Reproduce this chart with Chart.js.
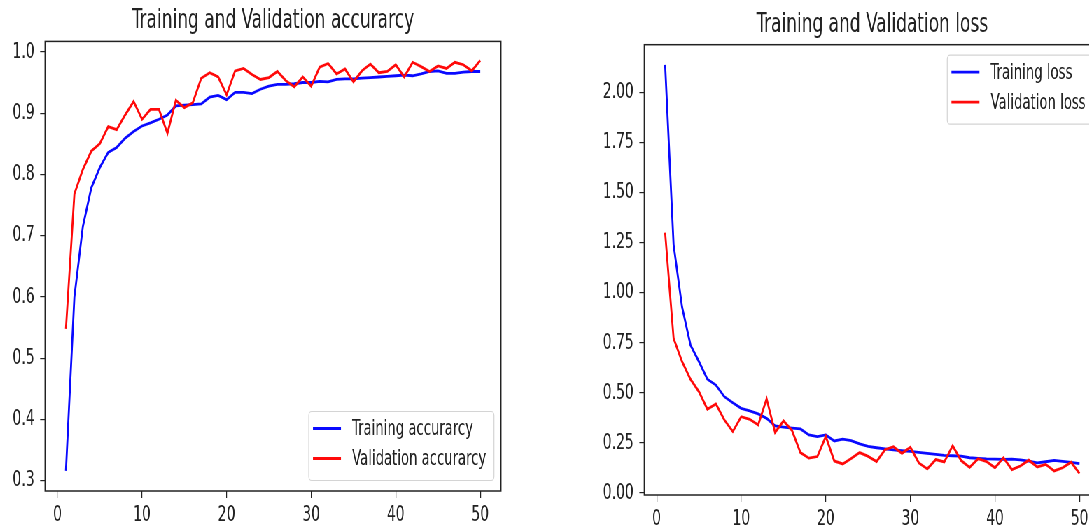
<!DOCTYPE html>
<html>
<head>
<meta charset="utf-8">
<script src="https://cdn.jsdelivr.net/npm/chart.js@4.4.1/dist/chart.umd.min.js"></script>
<style>
  html, body { margin: 0; padding: 0; background: #fff; overflow: hidden; }
  /* the reference is squeezed horizontally, so draw wide and scale down */
  #lienzo { position: relative; width: 1620px; height: 531px; transform: scaleX(0.7); transform-origin: 0 0; }
  #grafico1 { position: absolute; left: 0; top: 0; }
  #grafico2 { position: absolute; left: 820px; top: 0; }
</style>
</head>
<body>
<div id="lienzo">
  <canvas id="grafico1" width="760" height="531"></canvas>
  <canvas id="grafico2" width="800" height="531"></canvas>
</div>
<script>
const epochs = [1, 2, 3, 4, 5, 6, 7, 8, 9, 10, 11, 12, 13, 14, 15, 16, 17, 18, 19, 20,
  21, 22, 23, 24, 25, 26, 27, 28, 29, 30, 31, 32, 33, 34, 35, 36, 37, 38, 39, 40,
  41, 42, 43, 44, 45, 46, 47, 48, 49, 50];

const trainAcc = [0.316, 0.600, 0.715, 0.778, 0.811, 0.836, 0.844, 0.859, 0.870, 0.879,
  0.884, 0.890, 0.897, 0.912, 0.913, 0.914, 0.915, 0.926, 0.929, 0.922,
  0.934, 0.934, 0.932, 0.939, 0.944, 0.947, 0.947, 0.948, 0.950, 0.950,
  0.952, 0.951, 0.955, 0.956, 0.956, 0.957, 0.958, 0.959, 0.960, 0.961,
  0.962, 0.961, 0.964, 0.968, 0.969, 0.965, 0.965, 0.967, 0.968, 0.968];

const valAcc = [0.548, 0.768, 0.808, 0.838, 0.850, 0.878, 0.873, 0.897, 0.919, 0.890,
  0.906, 0.906, 0.867, 0.921, 0.909, 0.917, 0.957, 0.966, 0.959, 0.930,
  0.969, 0.973, 0.963, 0.955, 0.958, 0.968, 0.953, 0.943, 0.959, 0.944,
  0.975, 0.981, 0.964, 0.972, 0.951, 0.969, 0.980, 0.966, 0.968, 0.979,
  0.959, 0.983, 0.976, 0.968, 0.977, 0.973, 0.983, 0.979, 0.969, 0.986];

const trainLoss = [2.138, 1.240, 0.929, 0.739, 0.656, 0.568, 0.539, 0.481, 0.451, 0.423,
  0.410, 0.395, 0.373, 0.335, 0.329, 0.324, 0.320, 0.290, 0.282, 0.290,
  0.260, 0.269, 0.262, 0.245, 0.233, 0.226, 0.220, 0.215, 0.211, 0.208,
  0.203, 0.198, 0.193, 0.188, 0.186, 0.184, 0.176, 0.173, 0.170, 0.169,
  0.168, 0.169, 0.165, 0.159, 0.150, 0.156, 0.163, 0.158, 0.153, 0.147];

const valLoss = [1.300, 0.772, 0.656, 0.568, 0.506, 0.418, 0.445, 0.365, 0.307, 0.381,
  0.368, 0.340, 0.470, 0.302, 0.360, 0.312, 0.202, 0.174, 0.182, 0.282,
  0.160, 0.145, 0.172, 0.202, 0.183, 0.157, 0.216, 0.231, 0.198, 0.228,
  0.150, 0.120, 0.167, 0.155, 0.236, 0.162, 0.128, 0.171, 0.157, 0.126,
  0.176, 0.117, 0.135, 0.164, 0.130, 0.143, 0.110, 0.126, 0.154, 0.097];

const xTicks = [0, 10, 20, 30, 40, 50];
const accTicks = [0.3, 0.4, 0.5, 0.6, 0.7, 0.8, 0.9, 1.0];
const lossTicks = [0, 0.25, 0.5, 0.75, 1.0, 1.25, 1.5, 1.75, 2.0];

const fuente = '"DejaVu Sans Condensed", "DejaVu Sans", sans-serif';
Chart.defaults.font.family = fuente;
Chart.defaults.color = '#222';

// box around the plot area (all four spines)
const marco = {
  id: 'marco',
  afterDraw(chart) {
    const ctx = chart.ctx;
    const a = chart.chartArea;
    ctx.save();
    ctx.strokeStyle = '#222';
    ctx.lineWidth = 1.5;
    ctx.strokeRect(a.left, a.top, a.right - a.left, a.bottom - a.top);
    ctx.restore();
  }
};

// legend drawn inside the plot, matplotlib style
const leyendaMpl = {
  id: 'leyendaMpl',
  afterDatasetsDraw(chart, args, opts) {
    const ctx = chart.ctx;
    const a = chart.chartArea;
    const sets = chart.data.datasets;
    ctx.save();
    ctx.font = '21px ' + fuente;
    let textW = 0;
    sets.forEach(d => { textW = Math.max(textW, ctx.measureText(d.label).width); });
    const w = 6 + 40 + 16 + textW + 11;
    const h = 69;
    const x = a.right - 10 - w;
    const y = opts.position === 'top' ? a.top + 10.5 : a.bottom - 10.5 - h;

    ctx.beginPath();
    ctx.roundRect(x, y, w, h, 4);
    ctx.fillStyle = 'rgba(255,255,255,0.8)';
    ctx.fill();
    ctx.strokeStyle = '#d4d4d4';
    ctx.lineWidth = 1.2;
    ctx.stroke();

    sets.forEach((d, i) => {
      const yy = y + 17 + i * 30;
      ctx.beginPath();
      ctx.moveTo(x + 6, yy);
      ctx.lineTo(x + 46, yy);
      ctx.strokeStyle = d.borderColor;
      ctx.lineWidth = 2.8;
      ctx.stroke();
      ctx.fillStyle = '#222';
      ctx.textAlign = 'left';
      ctx.textBaseline = 'middle';
      ctx.fillText(d.label, x + 62, yy + 1.5);
    });
    ctx.restore();
  }
};

function puntos(valores) {
  return epochs.map((e, i) => ({ x: e, y: valores[i] }));
}

function crearGrafico(id, cfg) {
  return new Chart(document.getElementById(id), {
    type: 'line',
    data: {
      datasets: [{
        label: cfg.labels[0],
        data: puntos(cfg.train),
        borderColor: '#0a0aff',
        borderWidth: 2.8,
        pointRadius: 0,
        tension: 0,
        order: 1
      }, {
        label: cfg.labels[1],
        data: puntos(cfg.val),
        borderColor: '#ff0a0a',
        borderWidth: 2.8,
        pointRadius: 0,
        tension: 0,
        order: 0
      }]
    },
    options: {
      responsive: false,
      animation: false,
      devicePixelRatio: 1,
      layout: { padding: { left: 0, right: cfg.padRight, top: 0, bottom: 0 } },
      plugins: {
        legend: { display: false },
        tooltip: { enabled: false },
        title: {
          display: true,
          text: cfg.title,
          fullSize: false,
          color: '#222',
          font: { size: 27, weight: 'normal', lineHeight: 1.2 },
          padding: cfg.titlePad
        },
        leyendaMpl: { position: cfg.legendPos }
      },
      scales: {
        x: {
          type: 'linear',
          min: -1.47,
          max: 52.45,
          border: { display: false },
          grid: { drawOnChartArea: false, color: '#222', tickLength: 7, lineWidth: 1.2 },
          ticks: { font: { size: 22 }, padding: 3.8, maxRotation: 0, autoSkip: false, callback: v => String(v) },
          afterBuildTicks: ax => { ax.ticks = xTicks.map(v => ({ value: v })); },
          afterFit: ax => { ax.height = cfg.xHeight; }
        },
        y: {
          min: cfg.yMin,
          max: cfg.yMax,
          border: { display: false },
          grid: { drawOnChartArea: false, color: '#222', tickLength: 7, lineWidth: 1.2 },
          ticks: { font: { size: 22 }, padding: 8, autoSkip: false, callback: v => v.toFixed(cfg.decimals) },
          afterBuildTicks: ax => { ax.ticks = cfg.yTicks.map(v => ({ value: v })); },
          afterFit: ax => { ax.width = cfg.yWidth; }
        }
      }
    },
    plugins: [marco, leyendaMpl]
  });
}

crearGrafico('grafico1', {
  title: 'Training and Validation accurarcy',
  labels: ['Training accurarcy', 'Validation accurarcy'],
  train: trainAcc,
  val: valAcc,
  yMin: 0.2832,
  yMax: 1.0171,
  yTicks: accTicks,
  decimals: 1,
  yWidth: 64.3,
  xHeight: 40,
  padRight: 44.3,
  titlePad: { top: 4.8, bottom: 4.2 },
  legendPos: 'bottom'
});

crearGrafico('grafico2', {
  title: 'Training and Validation loss',
  labels: ['Training loss', 'Validation loss'],
  train: trainLoss,
  val: valLoss,
  yMin: -0.01,
  yMax: 2.239,
  yTicks: lossTicks,
  decimals: 2,
  yWidth: 100.4,
  xHeight: 36,
  padRight: 48.1,
  titlePad: { top: 8.9, bottom: 3.4 },
  legendPos: 'top'
});
</script>
</body>
</html>
